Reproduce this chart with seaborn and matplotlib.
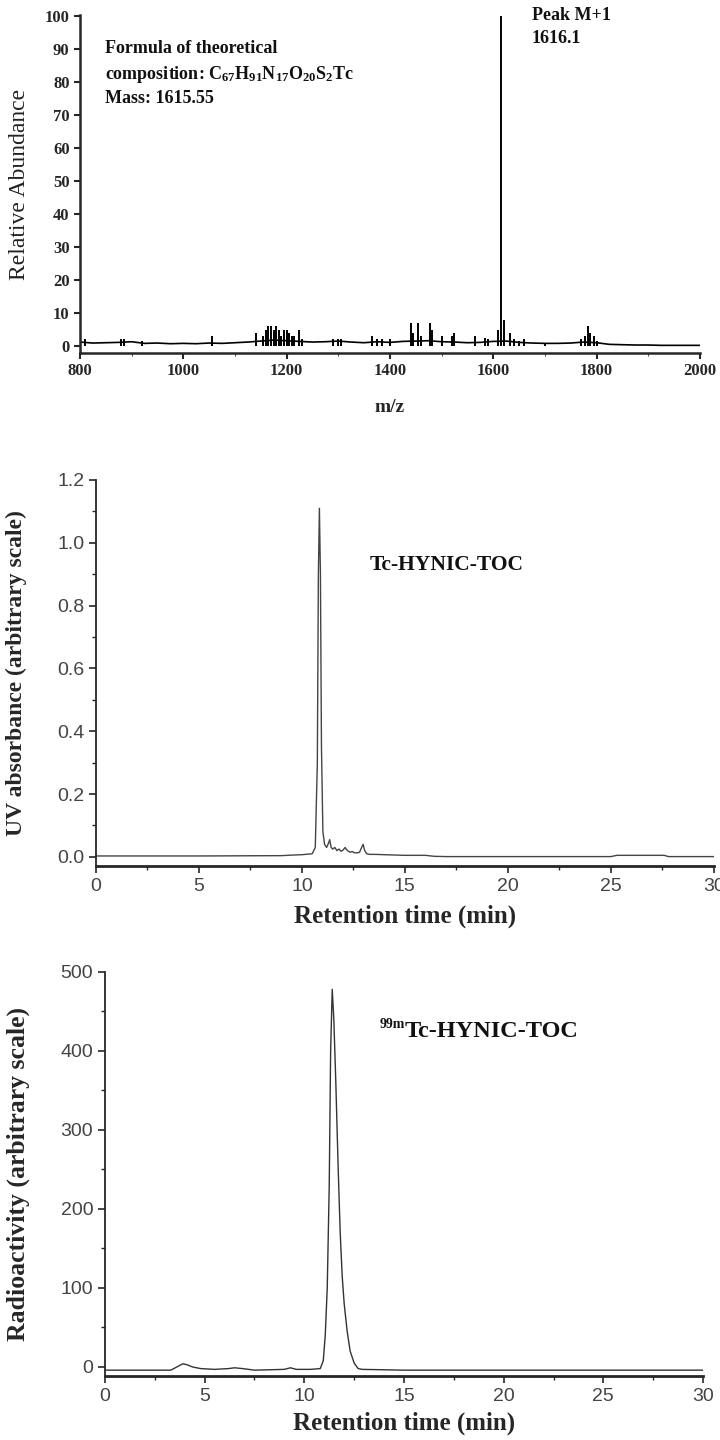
import numpy as np
import pandas as pd
import seaborn as sns
import matplotlib.pyplot as plt
from matplotlib.ticker import MultipleLocator

# --- mass spectrum (panel 1) ---
stick_mz = [810, 880, 886, 920, 1055, 1140, 1155, 1160, 1165, 1170, 1175, 1180, 1185, 1190,
            1195, 1200, 1205, 1210, 1215, 1225, 1230, 1290, 1300, 1305, 1365, 1375, 1385,
            1400, 1440, 1445, 1455, 1460, 1478, 1482, 1500, 1520, 1525, 1565, 1585, 1590,
            1610, 1616, 1620, 1633, 1640, 1650, 1660, 1700, 1770, 1778, 1783, 1788, 1795, 1800]
stick_int = [2, 2, 2, 1.5, 3, 4, 3, 5, 6, 6, 5, 6, 5, 3,
             5, 5, 4, 3, 3, 5, 2, 2, 2, 2, 3, 2, 2,
             2, 7, 4, 7, 3, 7, 5, 3, 3, 4, 3, 2.5, 2,
             5, 100, 8, 4, 2, 1.5, 2, 1, 2, 3, 6, 4, 3, 1.5]
noise_mz = [800, 825, 850, 875, 900, 925, 950, 975, 1000, 1025, 1050, 1075, 1100, 1125,
            1150, 1175, 1200, 1225, 1250, 1275, 1300, 1325, 1350, 1375, 1400, 1425, 1450,
            1475, 1500, 1525, 1550, 1575, 1600, 1625, 1650, 1675, 1700, 1725, 1750, 1775,
            1800, 1825, 1850, 1875, 1900, 1925, 1950, 1975, 2000]
noise_lvl = [1.2, 0.9, 1.0, 1.1, 1.3, 0.8, 0.9, 0.7, 0.8, 0.7, 0.9, 0.8, 1.0, 1.2,
             1.5, 1.8, 1.6, 1.4, 1.2, 1.3, 1.5, 1.2, 1.0, 1.3, 1.1, 1.4, 1.5,
             1.6, 1.3, 1.2, 1.0, 1.1, 1.4, 1.5, 1.1, 0.9, 0.8, 0.8, 0.9, 1.2,
             1.0, 0.5, 0.4, 0.3, 0.3, 0.2, 0.2, 0.2, 0.2]

# --- UV chromatogram (panel 2) ---
uv_t = [0, 5, 9.0, 9.6, 10.0, 10.5, 10.65, 10.75, 10.8, 10.85, 10.9, 10.95, 11.02, 11.1,
        11.2, 11.3, 11.35, 11.42, 11.5, 11.6, 11.7, 11.8, 11.9, 12.0, 12.1, 12.15, 12.25,
        12.35, 12.45, 12.55, 12.7, 12.8, 12.9, 12.97, 13.05, 13.15, 13.3, 13.6, 14.0, 14.5,
        15, 16, 16.4, 17, 20, 25, 25.3, 27.6, 27.8, 30]
uv_abs = [0.003, 0.003, 0.004, 0.006, 0.007, 0.01, 0.03, 0.3, 0.9, 1.11, 0.9, 0.35, 0.08, 0.04,
          0.03, 0.045, 0.055, 0.03, 0.025, 0.03, 0.02, 0.025, 0.018, 0.022, 0.03, 0.025, 0.018,
          0.015, 0.017, 0.013, 0.013, 0.015, 0.03, 0.04, 0.02, 0.01, 0.008, 0.008, 0.007, 0.006,
          0.005, 0.005, 0.002, 0.001, 0.001, 0.001, 0.005, 0.005, 0.001, 0.001]

# --- radio chromatogram (panel 3) ---
rad_t = [0, 3.3, 3.6, 3.9, 4.1, 4.4, 4.8, 5.5, 6.2, 6.5, 6.9, 7.5, 9.0, 9.3, 9.6, 10.3,
         10.8, 10.95, 11.05, 11.15, 11.25, 11.32, 11.4, 11.48, 11.58, 11.7, 11.8, 11.9, 12.0,
         12.15, 12.3, 12.5, 12.7, 12.9, 15, 20, 30]
rad_cps = [-4, -4, 0, 4, 3, 0, -2, -3, -2, -1, -2, -4, -3, -1, -3, -3,
           -2, 8, 40, 100, 230, 400, 478, 440, 360, 250, 170, 115, 80,
           45, 20, 5, -2, -3, -4, -4, -4]

sns.set_style("ticks")
plt.rcParams["font.family"] = ["Liberation Serif", "DejaVu Serif"]
plt.rcParams["mathtext.default"] = "regular"

fig = plt.figure(figsize=(7.2, 14.4), dpi=100)

# panel 1
ax1 = fig.add_axes([0.111, 0.7549, 0.861, 0.2347])
ax1.vlines(stick_mz, 0, stick_int, color="black", linewidth=1.4)
sns.lineplot(x=noise_mz, y=noise_lvl, ax=ax1, color="black", linewidth=1.2)
ax1.set_xlim(800, 2000)
ax1.set_ylim(-2.1, 100.3)
ax1.xaxis.set_major_locator(MultipleLocator(200))
ax1.xaxis.set_minor_locator(MultipleLocator(100))
ax1.yaxis.set_major_locator(MultipleLocator(10))
sns.despine(ax=ax1)
for s in ["left", "bottom"]:
    ax1.spines[s].set_linewidth(1.8)
ax1.tick_params(labelsize=12, width=1.5, length=4)
for lab in ax1.get_xticklabels() + ax1.get_yticklabels():
    lab.set_fontweight("bold")
ax1.set_xlabel("m/z", fontsize=14, fontweight="bold")
ax1.set_ylabel("Relative Abundance", fontsize=17, color="#222222")
ax1.xaxis.set_label_coords(0.5, -0.135)
ax1.yaxis.set_label_coords(-0.08, 0.5)
bold = dict(fontsize=13, fontweight="bold", color="#111111")
ax1.text(848, 88.8, "Formula of theoretical", va="baseline", **bold)
ax1.text(848, 80.9, "composition: C$_{67}$H$_{91}$N$_{17}$O$_{20}$S$_{2}$Tc", va="baseline", **bold)
ax1.text(848, 73.6, "Mass: 1615.55", va="baseline", **bold)
ax1.text(1675, 98.8, "Peak M+1", va="baseline", **bold)
ax1.text(1675, 91.8, "1616.1", va="baseline", **bold)

# panel 2
ax2 = fig.add_axes([0.1333, 0.3986, 0.858, 0.2681])
sns.lineplot(x=uv_t, y=uv_abs, ax=ax2, color="#444444", linewidth=1.0)
ax2.set_xlim(0, 30)
ax2.set_ylim(-0.029, 1.2)
ax2.xaxis.set_major_locator(MultipleLocator(5))
ax2.xaxis.set_minor_locator(MultipleLocator(2.5))
ax2.yaxis.set_major_locator(MultipleLocator(0.2))
ax2.yaxis.set_minor_locator(MultipleLocator(0.1))
ax2.yaxis.set_major_formatter(plt.FormatStrFormatter("%.1f"))
ax2.set_xlabel("Retention time (min)", fontsize=18, fontweight="bold")
ax2.set_ylabel("UV absorbance (arbitrary scale)", fontsize=17, fontweight="bold")
ax2.xaxis.set_label_coords(0.5, -0.1)
ax2.yaxis.set_label_coords(-0.112, 0.5)
ax2.text(13.3, 0.93, "Tc-HYNIC-TOC", va="center", fontsize=15.5, fontweight="bold", color="#111111")

# panel 3
ax3 = fig.add_axes([0.1458, 0.04444, 0.8306, 0.2806])
sns.lineplot(x=rad_t, y=rad_cps, ax=ax3, color="#333333", linewidth=1.0)
ax3.set_xlim(0, 30)
ax3.set_ylim(-11.4, 500)
ax3.xaxis.set_major_locator(MultipleLocator(5))
ax3.xaxis.set_minor_locator(MultipleLocator(2.5))
ax3.yaxis.set_major_locator(MultipleLocator(100))
ax3.yaxis.set_minor_locator(MultipleLocator(50))
ax3.set_xlabel("Retention time (min)", fontsize=18, fontweight="bold")
ax3.set_ylabel("Radioactivity (arbitrary scale)", fontsize=18.5, fontweight="bold")
ax3.xaxis.set_label_coords(0.5, -0.087)
ax3.yaxis.set_label_coords(-0.125, 0.5)
ax3.text(13.8, 433, "99m", va="center", fontsize=10, fontweight="bold", color="#111111")
ax3.text(15.05, 424, "Tc-HYNIC-TOC", va="center", fontsize=17.5, fontweight="bold", color="#111111")

for ax in (ax2, ax3):
    sns.despine(ax=ax)
    ax.spines["left"].set_linewidth(1.3)
    ax.spines["bottom"].set_linewidth(2.0)
    ax.tick_params(which="major", length=5, width=1.2, labelsize=14, labelcolor="#444444")
    ax.tick_params(which="minor", length=3, width=1.0)
    for lab in ax.get_xticklabels() + ax.get_yticklabels():
        lab.set_fontfamily(["Liberation Sans", "DejaVu Sans"])

fig.savefig("out.png", dpi=100)
